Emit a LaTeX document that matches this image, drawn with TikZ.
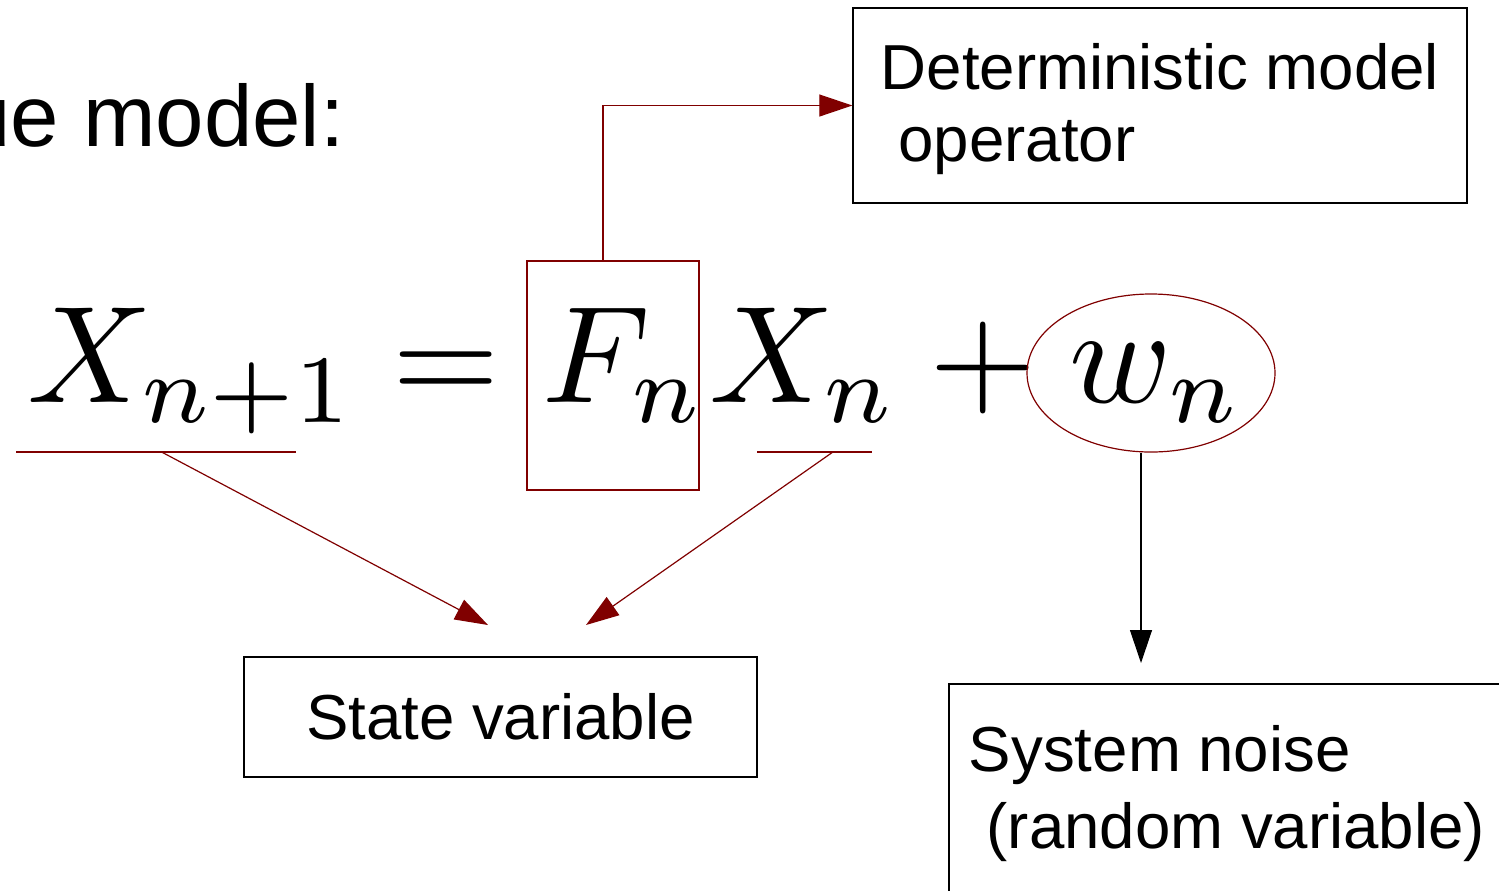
\documentclass[tikz,border=0pt]{standalone}
\usepackage[no-math]{fontspec}
\usepackage{graphicx}
\newfontfamily\labelfont{Liberation Sans}
\usetikzlibrary{arrows.meta,calc,shapes.geometric}
\definecolor{markred}{RGB}{128,0,0}
\newcommand\eqpart[1]{\scalebox{6.9}{$#1$}}
\tikzset{
 labelbox/.style={draw,line width=.7pt,inner sep=0,align=left,font=\labelfont\fontsize{31.8}{36}\selectfont},
 formula/.style={inner sep=0,anchor=base west},
 markframe/.style={draw=markred,line width=.6pt,inner sep=0},
 markline/.style={draw=markred,line width=.6pt},
 markarrow/.style={markline,-{Triangle[length=16.5pt,width=11pt]}},
 blackarrow/.style={line width=.6pt,-{Triangle[length=16.5pt,width=11pt]}}
}

\begin{document}
\begin{tikzpicture}[x=0.5pt,y=-0.5pt]
\path[use as bounding box,fill=white] (0,0) rectangle (1499,890);
\node[anchor=base east,inner sep=0,font=\labelfont\fontsize{43.5}{50}\selectfont] (heading) at (345,146) {ue model:};
\node[formula] (Xnext) at (27,402) {\eqpart{X_{n+1}}};
\node[formula] (eqs) at (392,402) {\eqpart{=}};
\node[formula] (Fn) at (542,402) {\eqpart{F_n}};
\node[formula] (Xn) at (709,402) {\eqpart{X_n}};
\node[formula] (plus) at (929,402) {\eqpart{+}};
\node[formula] (wn) at (1069,402) {\eqpart{w_n}};
\node[markframe,minimum width=86pt,minimum height=114.5pt] (Fbox) at (613,375.5) {};
\node[markframe,ellipse,minimum width=124pt,minimum height=79pt] (wring) at (1151,373) {};
\node[labelbox,minimum width=307pt,minimum height=97.5pt] (det) at (1160,105.5) {\rule{0pt}{27pt}Deterministic model\\\ operator};
\node[labelbox,minimum width=256.5pt,minimum height=60pt] (state) at (500.5,717) {State variable};
\node[labelbox,minimum width=278pt,minimum height=109.7pt,font=\labelfont\fontsize{31.8}{38.5}\selectfont] (noise) at (1227,793.7) {System noise\\\ (random variable)};
\coordinate (ulA) at (16,452);
\coordinate (ulB) at (296,452);
\coordinate (ulC) at (757,452);
\coordinate (ulD) at (872,452);
\coordinate (tipA) at (488,625);
\coordinate (tipB) at (586,625);
\coordinate (tipC) at (1141,663);
\draw[markline] (ulA) -- (ulB);
\draw[markline] (ulC) -- (ulD);
\draw[markarrow] ($(ulA)!.52!(ulB)$) -- (tipA);
\draw[markarrow] ($(ulC)!.66!(ulD)$) -- (tipB);
\draw[markarrow] ($(Fbox.north)+(-10,0)$) |- (det.west);
\draw[blackarrow] ($(wring.south)+(-10,0)$) -- (tipC);
\end{tikzpicture}
\end{document}
